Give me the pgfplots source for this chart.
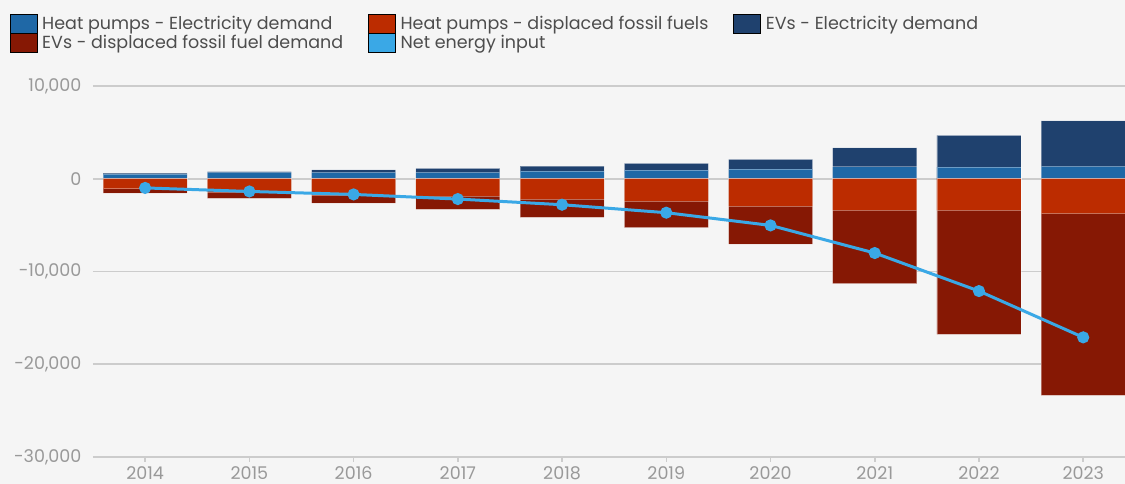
\documentclass[border=0pt]{standalone}
\usepackage{pgfplots}
\pgfplotsset{compat=1.18}
\usepackage{pgfplotstable}
\usepackage{fontspec}
\setmainfont{Poppins}
\definecolor{bg}{HTML}{F5F5F5}
\definecolor{hpe}{HTML}{1F68A6}
\definecolor{hpf}{HTML}{BC2C00}
\definecolor{eve}{HTML}{1F416E}
\definecolor{evf}{HTML}{861804}
\definecolor{netc}{HTML}{3AA8E6}
\definecolor{gridc}{HTML}{CCCCCC}
\definecolor{tickc}{HTML}{999999}
\definecolor{legc}{HTML}{4D4D4D}

\pgfplotstableread{
x hpe eve hpf evf net
0 500 100 -1080 -470 -990
1 700 80 -1440 -680 -1370
2 680 290 -1800 -830 -1690
3 700 430 -1870 -1440 -2190
4 830 540 -2230 -1940 -2800
5 940 720 -2440 -2840 -3660
6 1040 1040 -2980 -4060 -5030
7 1290 2050 -3410 -7900 -8010
8 1260 3410 -3410 -13370 -12110
9 1330 4920 -3770 -19580 -17100
}\data

\begin{document}
\begin{tikzpicture}
\fill[bg] (0,0) rectangle (1125pt,484pt);
\path[use as bounding box] (0,0) rectangle (1125pt,484pt);
\begin{axis}[
  at={(93pt,27pt)}, anchor=south west,
  width=1032pt, height=371pt, scale only axis,
  xmin=-0.5, xmax=9.4, ymin=-30000, ymax=10000,
  axis line style={draw=none},
  ymajorgrids, grid style={gridc, line width=1.6pt},
  ytick={-30000,-20000,-10000,0,10000},
  scaled y ticks=false,
  xtick={0,...,9},
  xticklabels={2014,2015,2016,2017,2018,2019,2020,2021,2022,2023},
  xtick pos=bottom, ytick pos=left,
  tick align=outside,
  xtick style={draw=gridc, line width=1.5pt},
  major tick length=5pt,
  ytick style={draw=none},
  /pgf/number format/assume math mode=true,
  /pgf/number format/1000 sep={,},
  yticklabel style={text=tickc, font=\fontsize{17.5}{17.5}\selectfont, xshift=-3pt},
  xticklabel style={text=tickc, font=\fontsize{17.5}{17.5}\selectfont, yshift=-1pt},
  legend style={at={(axis description cs:-0.0808,1.1957)}, anchor=north west,
    draw=none, fill=none, inner sep=0pt, row sep=0pt,
    font=\fontsize{17.5}{17.5}\selectfont, text=legc,
    nodes={inner ysep=0pt, inner xsep=0pt},
    /tikz/every odd column/.style={column sep=5pt},
    /tikz/every even column/.style={column sep=25pt}},
  legend columns=3, legend cell align=left,
  legend image code/.code={\fill[#1] (0pt,-9.5pt) rectangle (27pt,9.5pt);},
]
\addplot[ybar, bar width=0.806, bar shift=0pt, fill=eve, draw=white, draw opacity=0.35, line width=0.8pt, forget plot]
  table[x=x, y expr=\thisrow{hpe}+\thisrow{eve}] {\data};
\addplot[ybar, bar width=0.806, bar shift=0pt, fill=hpe, draw=white, draw opacity=0.35, line width=0.8pt, forget plot]
  table[x=x, y=hpe] {\data};
\addplot[ybar, bar width=0.806, bar shift=0pt, fill=evf, draw=white, draw opacity=0.35, line width=0.8pt, forget plot]
  table[x=x, y expr=\thisrow{hpf}+\thisrow{evf}] {\data};
\addplot[ybar, bar width=0.806, bar shift=0pt, fill=hpf, draw=white, draw opacity=0.35, line width=0.8pt, forget plot]
  table[x=x, y=hpf] {\data};
\addplot[netc, line width=3pt, mark=*, mark size=4.5pt, mark options={fill=netc, draw=netc}, forget plot]
  table[x=x, y=net] {\data};
\addlegendimage{fill=hpe}
\addlegendentry{Heat pumps - Electricity demand}
\addlegendimage{fill=hpf}
\addlegendentry{Heat pumps - displaced fossil fuels}
\addlegendimage{fill=eve}
\addlegendentry{EVs - Electricity demand}
\addlegendimage{fill=evf}
\addlegendentry{EVs - displaced fossil fuel demand}
\addlegendimage{fill=netc}
\addlegendentry{Net energy input}
\end{axis}
\end{tikzpicture}
\end{document}
